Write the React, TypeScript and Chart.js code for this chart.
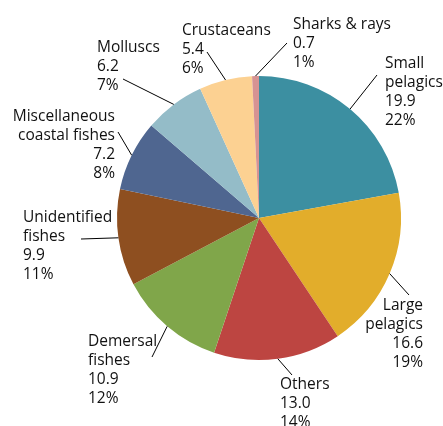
import React, { useEffect, useRef } from "react";
import { Chart, registerables } from "chart.js";

Chart.register(...registerables);

const categories = [
  "Small pelagics",
  "Large pelagics",
  "Others",
  "Demersal fishes",
  "Unidentified fishes",
  "Miscellaneous coastal fishes",
  "Molluscs",
  "Crustaceans",
  "Sharks & rays",
];
const labelLines = [
  ["Small", "pelagics"],
  ["Large", "pelagics"],
  ["Others"],
  ["Demersal", "fishes"],
  ["Unidentified", "fishes"],
  ["Miscellaneous", "coastal fishes"],
  ["Molluscs"],
  ["Crustaceans"],
  ["Sharks & rays"],
];
const values = [19.9, 16.6, 13.0, 10.9, 9.9, 7.2, 6.2, 5.4, 0.7];
const valueLabels = ["19.9", "16.6", "13.0", "10.9", "9.9", "7.2", "6.2", "5.4", "0.7"];
const percentLabels = ["22%", "19%", "14%", "12%", "11%", "8%", "7%", "6%", "1%"];
const colors = [
  "#3c8fa1",
  "#e2ad2b",
  "#bd4541",
  "#80a64a",
  "#8e4f20",
  "#4f6690",
  "#94bcc8",
  "#fcd192",
  "#d69393",
];

// label layout: text anchor (first baseline), alignment, leader end point
const labelLayout = [
  { align: "left", x: 385, y: 68, ex: 377, ey: 75 },
  { align: "right", x: 423, y: 310, ex: 409, ey: 295 },
  { align: "left", x: 280, y: 389, ex: 292, ey: 375 },
  { align: "left", x: 88, y: 346, ex: 152, ey: 357 },
  { align: "left", x: 23, y: 222, ex: 81, ey: 239 },
  { align: "right", x: 115, y: 121, ex: 118, ey: 132 },
  { align: "left", x: 97, y: 52, ex: 123, ey: 79 },
  { align: "left", x: 182, y: 35, ex: 207, ey: 52 },
  { align: "left", x: 293, y: 29, ex: 287, ey: 43 },
];

const FONT = '15.5px "Open Sans", sans-serif';
const LINE_H = 19;

const labelPlugin = {
  id: "pieLabels",
  afterDraw(chart: any) {
    const ctx = chart.ctx;
    const meta = chart.getDatasetMeta(0);
    ctx.save();
    ctx.strokeStyle = "#000";
    ctx.lineWidth = 1;
    ctx.fillStyle = "#111";
    ctx.font = FONT;
    ctx.textBaseline = "alphabetic";
    meta.data.forEach((arc: any, i: number) => {
      const p = arc.getProps(["x", "y", "startAngle", "endAngle", "outerRadius"], true);
      const mid = (p.startAngle + p.endAngle) / 2;
      const sx = p.x + Math.cos(mid) * p.outerRadius;
      const sy = p.y + Math.sin(mid) * p.outerRadius;
      const L = labelLayout[i];
      ctx.beginPath();
      ctx.moveTo(sx, sy);
      ctx.lineTo(L.ex, L.ey);
      ctx.stroke();
      const lines = [...labelLines[i], valueLabels[i], percentLabels[i]];
      ctx.textAlign = L.align;
      lines.forEach((t, k) => ctx.fillText(t, L.x, L.y + k * LINE_H));
    });
    ctx.restore();
  },
};

export default function App() {
  const ref = useRef<HTMLCanvasElement>(null);
  useEffect(() => {
    if (!ref.current) return;
    const chart = new Chart(ref.current, {
      type: "pie",
      data: {
        labels: categories,
        datasets: [
          {
            data: values,
            backgroundColor: colors,
            borderWidth: 0,
          },
        ],
      },
      options: {
        responsive: false,
        animation: false,
        layout: { padding: { left: 117, right: 42, top: 76, bottom: 66 } },
        plugins: {
          legend: { display: false },
          tooltip: { enabled: false },
        },
      },
      plugins: [labelPlugin],
    });
    return () => chart.destroy();
  }, []);
  return (
    <div style={{ position: "absolute", left: 0, top: 0, width: 443, height: 426, background: "#fff" }}>
      <canvas ref={ref} width={443} height={426} />
    </div>
  );
}
